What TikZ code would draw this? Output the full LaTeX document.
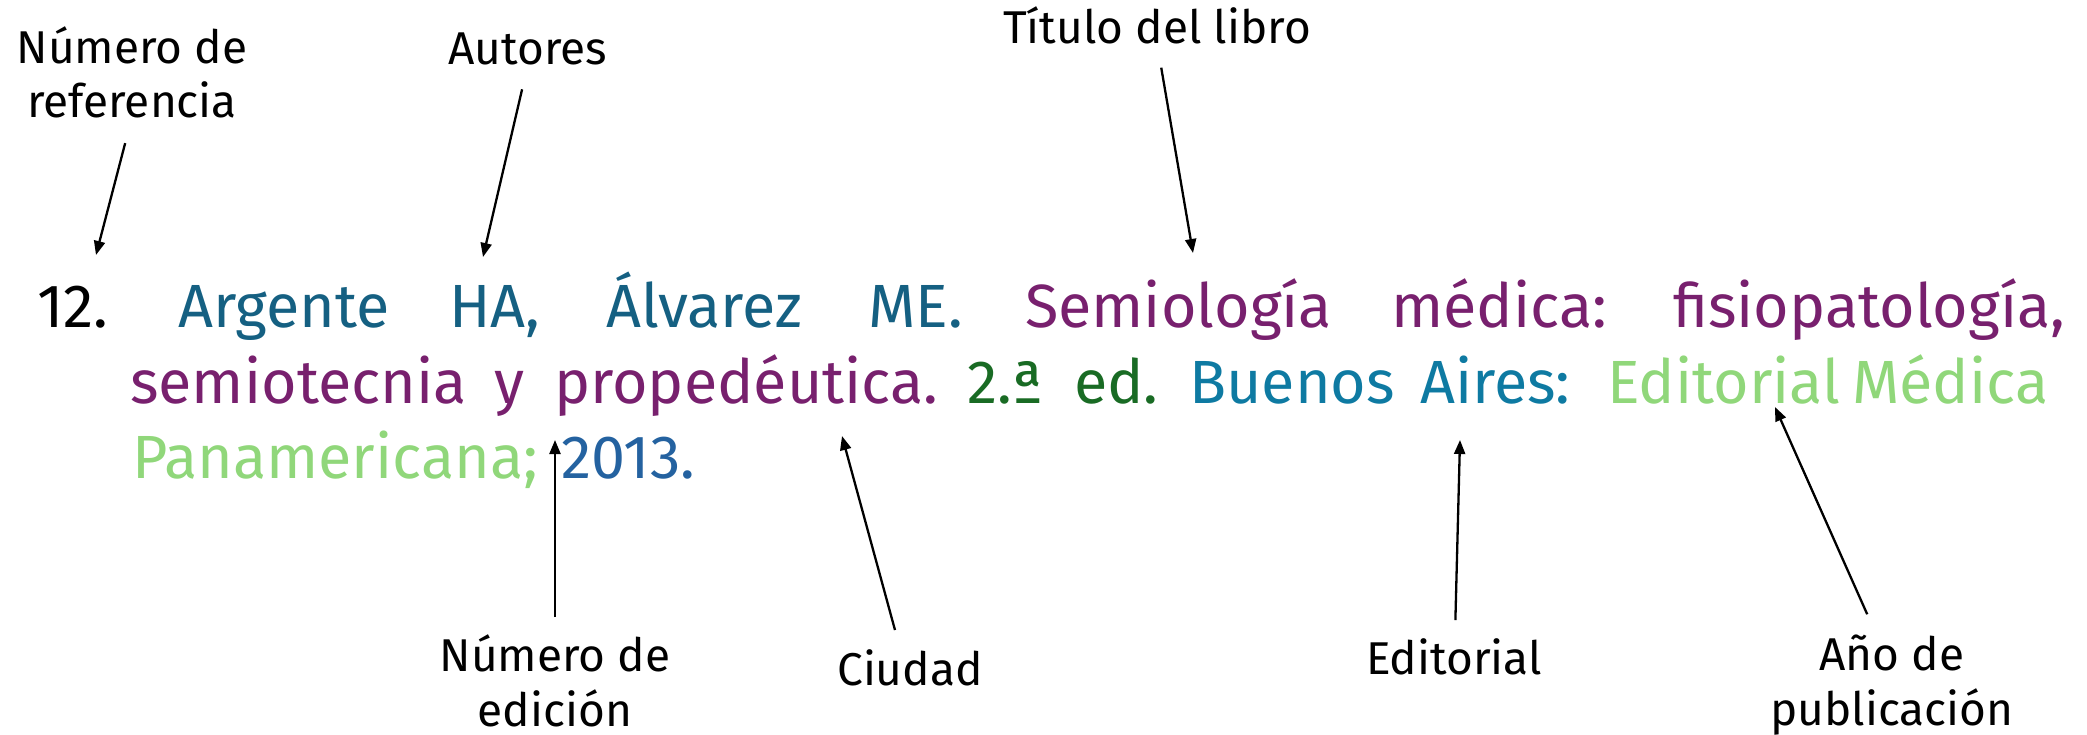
\documentclass[tikz,border=0pt]{standalone}
\usepackage{fontspec}
\setmainfont{Fira Sans}
\usetikzlibrary{arrows.meta}
\definecolor{cauth}{HTML}{156082}
\definecolor{ctitle}{HTML}{78206E}
\definecolor{cedit}{HTML}{196B24}
\definecolor{ccity}{HTML}{0E7AA2}
\definecolor{cpub}{HTML}{90D77A}
\definecolor{cyear}{HTML}{2462A0}
\tikzset{
  ref/.style={anchor=base west, inner sep=0pt, font=\fontsize{61}{73}\selectfont},
  lab/.style={anchor=base, inner sep=0pt, font=\fontsize{46}{55}\selectfont},
  arr/.style={line width=2.3pt, -{Triangle[length=14pt,width=11pt]}}
}
\begin{document}
\begin{tikzpicture}[x=1pt,y=-1pt]
\useasboundingbox (0,0) rectangle (2087,734);
% reference text, line 1
\node[ref] (n12) at (37,327) {12.};
\node[ref, text=cauth] (w1) at (178,327) {Argente};
\node[ref, text=cauth] (w2) at (449,327) {HA,};
\node[ref, text=cauth] (w3) at (606,327) {Álvarez};
\node[ref, text=cauth] (w4) at (868,327) {ME.};
\node[ref, text=ctitle] (w5) at (1025,327) {Semiología};
\node[ref, text=ctitle] (w6) at (1391,327) {médica:};
\node[ref, text=ctitle] (w7) at (1673,327) {fisiopatología,};
% line 2
\node[ref, text=ctitle] (w8) at (130,403) {semiotecnia};
\node[ref, text=ctitle] (w8b) at (494,403) {y};
\node[ref, text=ctitle] (w9) at (554,403) {propedéutica.};
\node[ref, text=cedit] (w10) at (967,403) {2.ª};
\node[ref, text=cedit] (w11) at (1074,403) {ed.};
\node[ref, text=ccity] (w12) at (1189,403) {Buenos};
\node[ref, text=ccity] (w12b) at (1420,403) {Aires:};
\node[ref, text=cpub] (w13) at (1607,403) {Editorial};
\node[ref, text=cpub] (w13b) at (1852,403) {Médica};
% line 3
\node[ref, text=cpub] (w14) at (132,478) {Panamericana;};
\node[ref, text=cyear] (w15) at (561,478) {2013.};
% labels
\node[lab] (lref1) at (132,63) {Número de};
\node[lab] (lref2) at (132,117) {referencia};
\node[lab] (laut) at (528,64) {Autores};
\node[lab] (ltit) at (1157,43) {Título del libro};
\node[lab] (led1) at (555,671) {Número de};
\node[lab] (led2) at (555,726) {edición};
\node[lab] (lciu) at (910,685) {Ciudad};
\node[lab] (ledi) at (1454,674) {Editorial};
\node[lab] (lano1) at (1892,670) {Año de};
\node[lab] (lano2) at (1892,725) {publicación};
% arrow tips
\coordinate (tref) at (96,255);
\coordinate (taut) at (483,257);
\coordinate (ttit) at (1193,253);
\coordinate (ted) at (555,440);
\coordinate (tciu) at (842,436);
\coordinate (tedi) at (1460,440);
\coordinate (tano) at (1775,407);
% arrows
\draw[arr, shorten <=27pt] (lref2.base) -- (tref);
\draw[arr, shorten <=26pt] (laut.base) -- (taut);
\draw[arr, shorten <=25pt] (ltit.base) -- (ttit);
\draw[arr, shorten <=54pt] (led1.base) -- (ted);
\draw[arr, shorten <=57pt] (lciu.base) -- (tciu);
\draw[arr, shorten <=54pt] (ledi.base) -- (tedi);
\draw[arr, shorten <=61pt] (lano1.base) -- (tano);
\end{tikzpicture}
\end{document}
